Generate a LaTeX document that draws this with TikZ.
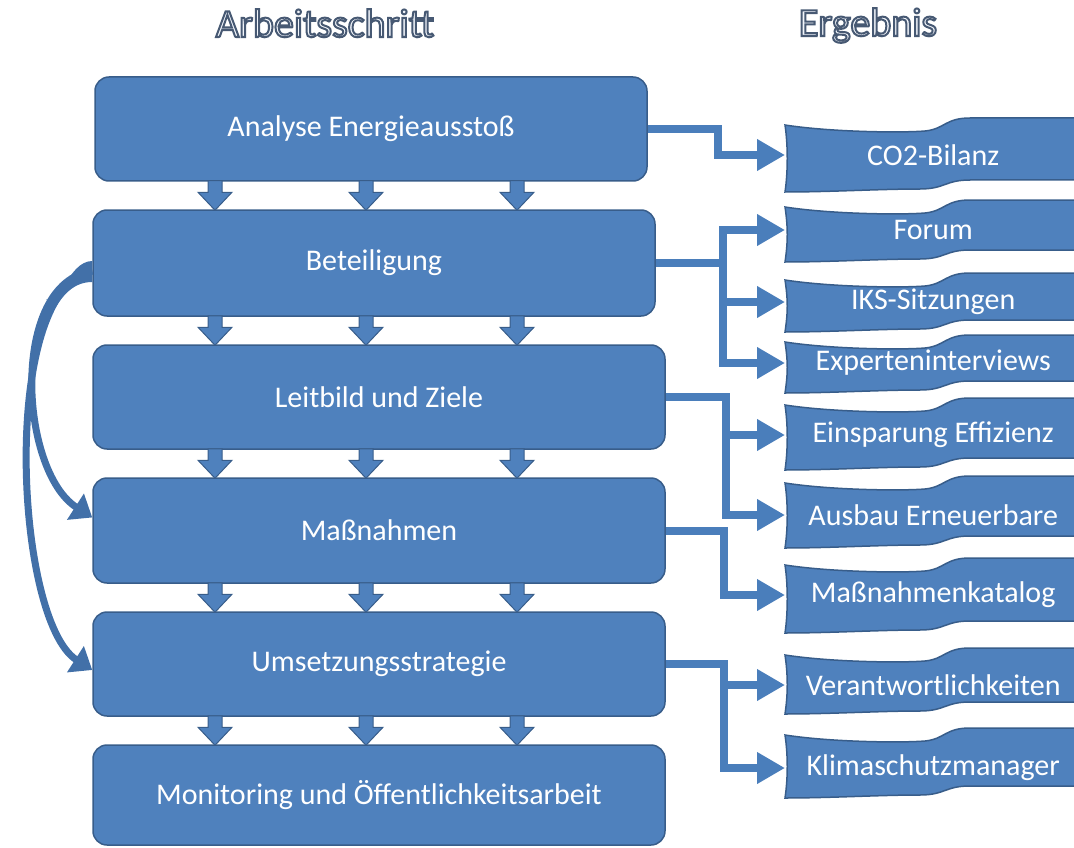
\documentclass[tikz,border=0pt]{standalone}
\usepackage{fontspec}
\setmainfont{Carlito}
\usetikzlibrary{arrows.meta,calc}

\definecolor{boxblue}{RGB}{79,129,189}
\definecolor{boxline}{RGB}{56,93,138}
\definecolor{linkblue}{RGB}{74,126,187}
\definecolor{loopblue}{RGB}{66,112,168}
\definecolor{hdrfill}{RGB}{241,245,251}

% outlined header text (fill + stroke)
\newcommand{\outlined}[1]{\special{pdf:literal direct 2 Tr 2 w 0.28 0.35 0.45 RG}#1\special{pdf:literal direct 0 Tr}}

% wave shaped result banner: top row, bottom row (pixels from the top)
\newcommand{\resultwave}[2]{%
  \draw[wave] (785,-#1) .. controls (830,-#1-7) and (900,-#1-8) .. (925,-#1-6)
    .. controls (945,-#1-4) and (945,-#1+7) .. (970,-#1+7) -- (1080,-#1+7)
    -- (1080,-#2+12) -- (970,-#2+12)
    .. controls (945,-#2+12) and (945,-#2+3) .. (920,-#2+3)
    .. controls (880,-#2+3) and (830,-#2) .. (785,-#2)
    .. controls (788,-#2+20) and (788,-#1-20) .. (785,-#1) -- cycle;}

\begin{document}
\begin{tikzpicture}[x=1pt, y=1pt,
    stepbox/.style={draw=boxline, fill=boxblue, line width=1.5pt, rounded corners=14pt,
      text=white, font=\fontsize{30}{36}\selectfont, inner sep=0pt},
    resulttext/.style={anchor=west, minimum width=296pt, inner sep=0pt,
      text=white, font=\fontsize{30}{35}\selectfont},
    wave/.style={fill=boxblue, draw=boxline, line width=1.5pt},
    blockarrow/.style={fill=boxblue, draw=boxline, line width=1pt},
    link/.style={draw=linkblue, line width=8pt, -{Triangle[length=28pt,width=30pt]}},
    loopback/.style={draw=loopblue, line width=7pt, -{Triangle[length=20pt,width=30pt]}},
    header/.style={text=hdrfill, font=\fontsize{40}{46}\selectfont, anchor=base}]
    \useasboundingbox (0,0) rectangle (1074,-848);

    \node[header] (hstep) at (325,-37) {\outlined{Arbeitsschritt}};
    \node[header] (hres) at (868,-36) {\outlined{Ergebnis}};

    % steps
    \node[stepbox, minimum width=552pt, minimum height=104pt] (ana) at (371,-129) {Analyse Energieausstoß};
    \node[stepbox, minimum width=562pt, minimum height=106pt] (bet) at (374,-263) {Beteiligung};
    \node[stepbox, minimum width=572pt, minimum height=104pt] (leit) at (379,-397) {Leitbild und Ziele};
    \node[stepbox, minimum width=572pt, minimum height=105pt] (mass) at (379,-530.5) {Maßnahmen};
    \node[stepbox, minimum width=572pt, minimum height=104pt] (ums) at (379,-664) {Umsetzungsstrategie};
    \node[stepbox, minimum width=572pt, minimum height=100pt] (mon) at (379,-795) {Monitoring und Öffentlichkeitsarbeit};

    \foreach \a/\b in {ana/bet, bet/leit, leit/mass, mass/ums, ums/mon}
      \foreach \col in {215,366,517}
        \path[blockarrow] let \p1=(\a.south), \p2=(\b.north) in
          ({\col*1pt-7pt},{\y1+1pt}) -- ({\col*1pt+7pt},{\y1+1pt}) -- ({\col*1pt+7pt},{\y2+17pt})
          -- ({\col*1pt+17pt},{\y2+17pt}) -- ({\col*1pt},{\y2-1pt}) -- ({\col*1pt-17pt},{\y2+17pt})
          -- ({\col*1pt-7pt},{\y2+17pt}) -- cycle;

    % results
    \foreach \top/\bot in {125/192, 207/262, 280/332, 342/393, 405/470, 483/548, 565/633, 655/714, 735/798}
      {\resultwave{\top}{\bot}}
    \node[resulttext] (co2) at (785,-155) {CO2-Bilanz};
    \node[resulttext] (forum) at (785,-230) {Forum};
    \node[resulttext] (iks) at (785,-302) {IKS-Sitzungen};
    \node[resulttext] (expert) at (785,-363) {Experteninterviews};
    \node[resulttext] (einsp) at (785,-435) {Einsparung Effizienz};
    \node[resulttext] (ausbau) at (785,-515) {Ausbau Erneuerbare};
    \node[resulttext] (katalog) at (785,-595) {Maßnahmenkatalog};
    \node[resulttext] (verantw) at (785,-685) {Verantwortlichkeiten};
    \node[resulttext] (klima) at (785,-768) {Klimaschutzmanager};

    \draw[link] (ana.east) -- ++(70,0) |- (co2.west);
    \path (bet.east) ++(67,0) coordinate (jbet);
    \draw[link] (bet.east) -- (jbet) |- (forum.west);
    \draw[link] (jbet) |- (iks.west);
    \draw[link] (jbet) |- (expert.west);
    \path (leit.east) ++(60,0) coordinate (jleit);
    \draw[link] (leit.east) -- (jleit) |- (einsp.west);
    \draw[link] (jleit) |- (ausbau.west);
    \draw[link] (mass.east) -- ++(58,0) |- (katalog.west);
    \path (ums.east) ++(58,0) coordinate (jums);
    \draw[link] (ums.east) -- (jums) |- (verantw.west);
    \draw[link] (jums) |- (klima.west);

    % loops back from Beteiligung
    \draw[loopback] ([yshift=-8pt]bet.west) .. controls +(-83,-12) and +(-73,47) .. ([yshift=13pt]mass.west);
    \draw[loopback] ([yshift=-8pt]bet.west) .. controls +(-93,-17) and +(-78,50) .. ([yshift=-6pt]ums.west);
    \fill[loopblue] ([yshift=2pt]bet.west) .. controls +(-25,0) and +(12,-14) .. ($(bet.west)+(-46,-36)$)
      -- ($(bet.west)+(-38,-46)$) .. controls +(8,12) and +(-20,0) .. ([yshift=-19pt]bet.west) -- cycle;
\end{tikzpicture}
\end{document}
